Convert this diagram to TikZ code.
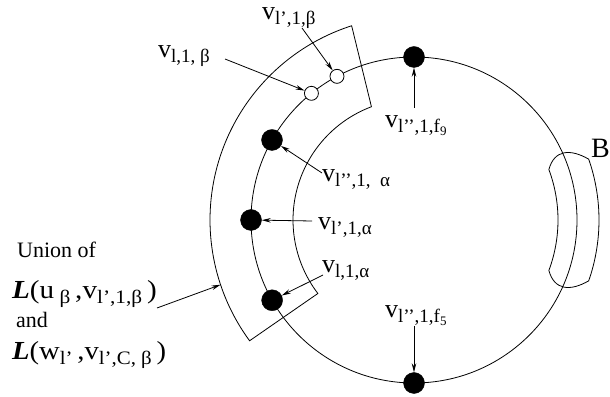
\documentclass[tikz,border=0pt]{standalone}
\usepackage{fontspec}
\setmainfont{Liberation Serif}
\usetikzlibrary{arrows.meta}
\newcommand\vsz{\fontsize{26}{26}\selectfont}
\newcommand\ssz{\fontsize{19}{19}\selectfont}
\newcommand\lsub[1]{\raisebox{-5pt}{\ssz #1}}
\newcommand\ff[1]{f\raisebox{-3pt}{\fontsize{13}{13}\selectfont #1}}
\tikzset{
  line/.style={line width=0.8pt},
  arr/.style={line width=0.8pt,-{Stealth[length=9pt,width=4.5pt]}},
  bdot/.style={circle,fill=black,draw=black,inner sep=0pt,minimum size=21pt},
  wdot/.style={circle,fill=white,draw=black,line width=0.8pt,inner sep=0pt,minimum size=14pt},
  lab/.style={anchor=base west,inner sep=0pt,font=\vsz},
}
\begin{document}
\begin{tikzpicture}[x=1pt,y=1pt]
\useasboundingbox (0,0) rectangle (610,396);
\begin{scope}[shift={(414,176)}]
  % union sector
  \draw[line] (107.8:204) arc[start angle=107.8,end angle=216.3,radius=204]
     -- (217.4:121) arc[start angle=217.4,end angle=110.6,radius=121] -- cycle;
  % B region
  \draw[line] (-20.5:144) arc[start angle=-20.5,end angle=20.5,radius=144]
     to[out=75,in=150,looseness=1.3] (19.2:185)
     arc[start angle=19.2,end angle=-19.2,radius=185]
     to[out=210,in=-75,looseness=1.3] cycle;
  % main circle
  \draw[line] (0,0) circle[radius=163];
  \node[bdot] (dtop) at (90:163) {};
  \node[bdot] (dbot) at (270:163) {};
  \node[bdot] (b1) at (150.6:163) {};
  \node[bdot] (b2) at (180:163) {};
  \node[bdot] (b3) at (209.5:163) {};
  \node[wdot] (w1) at (129:163) {};
  \node[wdot] (w2) at (118.2:163) {};
  \coordinate (uarc) at (198.5:204);
\end{scope}
% labels
\node[lab] (lw2) at (262,376) {v\lsub{l’,1,β}};
\node[lab] (lw1) at (158,338) {v\lsub{l,1, β}};
\node[lab] (lb1) at (322,214) {v\lsub{l’’,1,\ \ α}};
\node[lab] (lb2) at (318,166) {v\lsub{l’,1,α}};
\node[lab] (lb3) at (322,123) {v\lsub{l,1,α}};
\node[lab] (ltop) at (385,268) {v\lsub{l’’,1,\ff{9}}};
\node[lab] (lbot) at (385,78) {v\lsub{l’’,1,\ff{5}}};
\node[anchor=base west,inner sep=0pt,font=\fontsize{28}{28}\selectfont] (lB) at (591,238) {B};
\node[anchor=base west,inner sep=0pt,font=\fontsize{22}{22}\selectfont] (lu) at (17,138) {Union of};
\node[anchor=base west,inner sep=0pt,font=\vsz] (lL1) at (12,97) {\scalebox{1.12}[1]{\textbf{\textit{L}}(u\lsub{\ β}\,,v\lsub{l’,1,β}\,)}};
\node[anchor=base west,inner sep=0pt,font=\fontsize{22}{22}\selectfont] (land) at (16,68) {and};
\node[anchor=base west,inner sep=0pt,font=\vsz] (lL2) at (12,36) {\scalebox{1.1}[1]{\textbf{\textit{L}}(w\lsub{l’}\,,v\lsub{l’,C, β}\,)}};
% arrow start points
\coordinate (s1) at (302,368);
\coordinate (s2) at (225,337);
\coordinate (s3) at (322,223);
\coordinate (s4) at (312,175);
\coordinate (s5) at (323,121);
\coordinate (s6) at (414,288);
\coordinate (s7) at (414,70);
\coordinate (s8) at (157,88);
\draw[arr] (s1) -- (w2);
\draw[arr] (s2) -- (w1);
\draw[arr] (s3) -- (b1);
\draw[arr] (s4) -- (b2);
\draw[arr] (s5) -- (b3);
\draw[arr] (s6) -- (dtop);
\draw[arr] (s7) -- (dbot);
\draw[arr] (s8) -- (uarc);
\end{tikzpicture}
\end{document}
